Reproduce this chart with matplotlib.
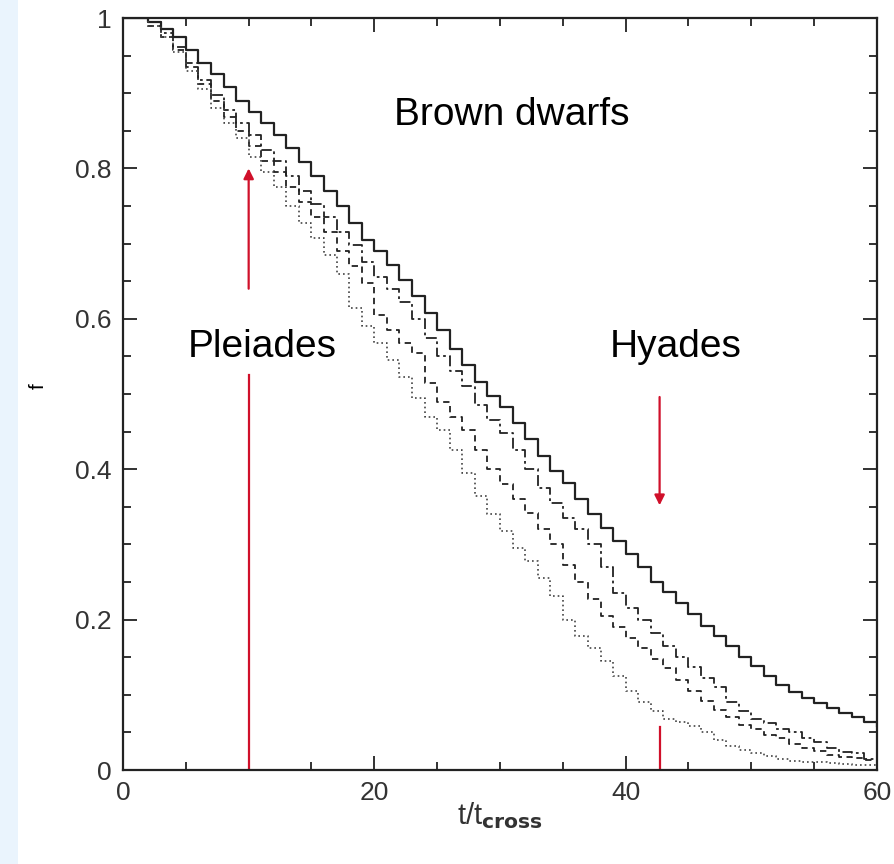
import matplotlib
matplotlib.use("Agg")
import matplotlib.pyplot as plt
from matplotlib.patches import Rectangle
from matplotlib.ticker import MultipleLocator

plt.rcParams['font.family'] = ['Liberation Sans', 'DejaVu Sans']
plt.rcParams['mathtext.fontset'] = 'custom'
plt.rcParams['mathtext.rm'] = 'Liberation Sans'

# время в единицах t_cross
t = list(range(61))

# доля оставшихся коричневых карликов, четыре модели
f_solid = [1, 1, 0.995, 0.985, 0.975, 0.958, 0.94, 0.925, 0.908, 0.89,
           0.875, 0.86, 0.845, 0.827, 0.808, 0.79, 0.77, 0.75, 0.728, 0.705,
           0.69, 0.672, 0.652, 0.63, 0.608, 0.585, 0.56, 0.538, 0.516, 0.498,
           0.483, 0.462, 0.44, 0.418, 0.397, 0.382, 0.36, 0.34, 0.322, 0.305,
           0.287, 0.27, 0.25, 0.237, 0.222, 0.207, 0.192, 0.178, 0.165, 0.15,
           0.138, 0.125, 0.113, 0.104, 0.096, 0.089, 0.082, 0.076, 0.07, 0.064,
           0.058]
f_dashdot = [1, 1, 0.995, 0.98, 0.962, 0.94, 0.918, 0.898, 0.878, 0.86,
             0.845, 0.825, 0.81, 0.79, 0.77, 0.752, 0.735, 0.715, 0.698, 0.675,
             0.655, 0.64, 0.622, 0.6, 0.575, 0.55, 0.53, 0.51, 0.485, 0.465,
             0.448, 0.425, 0.4, 0.375, 0.355, 0.335, 0.32, 0.3, 0.27, 0.235,
             0.215, 0.2, 0.182, 0.165, 0.15, 0.137, 0.122, 0.11, 0.09, 0.078,
             0.068, 0.063, 0.055, 0.05, 0.042, 0.037, 0.029, 0.024, 0.022, 0.015,
             0.012]
f_dashed = [1, 1, 0.99, 0.975, 0.958, 0.935, 0.912, 0.89, 0.868, 0.85,
            0.83, 0.81, 0.795, 0.775, 0.755, 0.735, 0.715, 0.69, 0.67, 0.648,
            0.605, 0.585, 0.568, 0.554, 0.515, 0.49, 0.47, 0.452, 0.425, 0.4,
            0.38, 0.36, 0.342, 0.32, 0.3, 0.272, 0.25, 0.228, 0.205, 0.19,
            0.175, 0.162, 0.148, 0.135, 0.12, 0.105, 0.092, 0.08, 0.07, 0.06,
            0.054, 0.047, 0.042, 0.034, 0.029, 0.025, 0.02, 0.017, 0.016, 0.013,
            0.01]
f_dotted = [1, 1, 0.99, 0.975, 0.955, 0.93, 0.905, 0.88, 0.86, 0.84,
            0.815, 0.795, 0.775, 0.75, 0.728, 0.708, 0.685, 0.66, 0.615, 0.59,
            0.568, 0.545, 0.523, 0.495, 0.47, 0.452, 0.425, 0.395, 0.365, 0.34,
            0.318, 0.295, 0.278, 0.255, 0.232, 0.2, 0.178, 0.162, 0.145, 0.125,
            0.105, 0.09, 0.078, 0.068, 0.064, 0.058, 0.05, 0.04, 0.032, 0.026,
            0.022, 0.018, 0.014, 0.012, 0.011, 0.01, 0.009, 0.008, 0.007, 0.006,
            0.005]

# стрелки: Плеяды и Гиады
t_pleiades = 10
t_hyades = 42.7

fig = plt.figure(figsize=(8.95, 8.64), dpi=100)
fig.patches.append(Rectangle((0, 0), 18 / 895, 1, transform=fig.transFigure,
                             facecolor='#eaf4fd', edgecolor='none', zorder=0))
ax = fig.add_axes([123 / 895, 94 / 864, 754 / 895, 752 / 864])

ax.plot(t, f_solid, drawstyle='steps-post', color='#222222', lw=1.6)
ax.plot(t, f_dashdot, drawstyle='steps-post', color='#222222', lw=1.3,
        dashes=(6, 2, 1.5, 2))
ax.plot(t, f_dashed, drawstyle='steps-post', color='#222222', lw=1.3,
        dashes=(3.5, 2.5))
ax.plot(t, f_dotted, drawstyle='steps-post', color='#444444', lw=1.2,
        dashes=(1, 1.8))

red = '#d0102a'
# Плеяды
ax.plot([t_pleiades, t_pleiades], [0, 0.525], color=red, lw=1.6)
ax.annotate('', xy=(t_pleiades, 0.80), xytext=(t_pleiades, 0.64),
            arrowprops=dict(arrowstyle='-|>', color=red, lw=1.6,
                            mutation_scale=15, shrinkA=0, shrinkB=0))
ax.text(11.1, 0.563, 'Pleiades', fontsize=28, ha='center', va='center')
# Гиады
ax.annotate('', xy=(t_hyades, 0.352), xytext=(t_hyades, 0.496),
            arrowprops=dict(arrowstyle='-|>', color=red, lw=1.6,
                            mutation_scale=15, shrinkA=0, shrinkB=0))
ax.plot([t_hyades, t_hyades], [0, 0.057], color=red, lw=1.6)
ax.text(44.0, 0.563, 'Hyades', fontsize=28, ha='center', va='center')

ax.text(30.9, 0.871, 'Brown dwarfs', fontsize=28, ha='center', va='center')

ax.set_xlim(0, 60)
ax.set_ylim(0, 1)
ax.xaxis.set_major_locator(MultipleLocator(20))
ax.xaxis.set_minor_locator(MultipleLocator(5))
ax.yaxis.set_minor_locator(MultipleLocator(0.05))
ax.set_yticks([0, 0.2, 0.4, 0.6, 0.8, 1])
ax.set_yticklabels(['0', '0.2', '0.4', '0.6', '0.8', '1'])
ax.tick_params(which='both', direction='in', top=True, right=True,
               labelsize=19, width=1.3, color='#222222', labelcolor='#333333')
ax.tick_params(which='major', length=10, pad=8)
ax.tick_params(which='minor', length=6)
for s in ax.spines.values():
    s.set_linewidth(1.6)
    s.set_color('#222222')

ax.set_xlabel(r'$\mathregular{t/t_{\bf cross}}$', fontsize=21, color='#333333')
ax.xaxis.set_label_coords(0.5, -0.04)
ax.set_ylabel('f', fontsize=15)
ax.yaxis.set_label_coords(-0.1, 0.51)

fig.savefig('out.png', dpi=100)
